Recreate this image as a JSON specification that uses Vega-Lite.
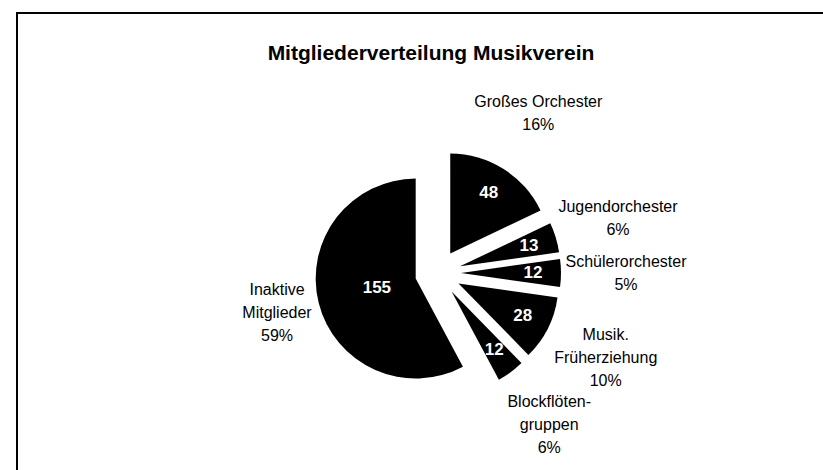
{
  "$schema": "https://vega.github.io/schema/vega-lite/v6.json",
  "width": 842,
  "height": 520,
  "autosize": "none",
  "padding": {"left": 17, "top": 13, "right": 0, "bottom": 0},
  "background": "white",
  "view": {"stroke": "black", "strokeWidth": 2, "fill": "white"},
  "title": {
    "text": "Mitgliederverteilung Musikverein",
    "font": "Liberation Sans",
    "fontSize": 21,
    "fontWeight": "bold",
    "color": "black",
    "anchor": "middle",
    "frame": "group",
    "offset": -68,
    "baseline": "alphabetic",
    "dx": -7
  },
  "data": {
    "values": [
      {"i": 1, "name": "Großes Orchester", "n": 48, "label": ["Großes Orchester", "16%"]},
      {"i": 2, "name": "Jugendorchester", "n": 13, "label": ["Jugendorchester", "6%"]},
      {"i": 3, "name": "Schülerorchester", "n": 12, "label": ["Schülerorchester", "5%"]},
      {"i": 4, "name": "Musik. Früherziehung", "n": 28, "label": ["Musik.", "Früherziehung", "10%"]},
      {"i": 5, "name": "Blockflötengruppen", "n": 12, "label": ["Blockflöten-", "gruppen", "6%"]},
      {"i": 6, "name": "Inaktive Mitglieder", "n": 155, "label": ["Inaktive", "Mitglieder", "59%"]}
    ]
  },
  "encoding": {
    "theta": {"field": "n", "type": "quantitative", "stack": true},
    "order": {"field": "i", "type": "quantitative", "sort": "ascending"}
  },
  "layer": [
    {
      "mark": {
        "type": "arc",
        "outerRadius": 100,
        "color": "black",
        "xOffset": {"expr": "23*sin(scale('theta', (datum.n_start + datum.n_end) / 2))"},
        "yOffset": {"expr": "-23*cos(scale('theta', (datum.n_start + datum.n_end) / 2))"}
      }
    },
    {
      "mark": {
        "type": "text",
        "radius": {"expr": "datum.n > 100 ? 40 : 72"},
        "color": "white",
        "font": "Liberation Sans",
        "fontSize": 17,
        "fontWeight": "bold",
        "align": "center",
        "baseline": "middle",
        "xOffset": {"expr": "23*sin(scale('theta', (datum.n_start + datum.n_end) / 2))"},
        "yOffset": {"expr": "-23*cos(scale('theta', (datum.n_start + datum.n_end) / 2))"}
      },
      "encoding": {"text": {"field": "n", "type": "quantitative"}}
    },
    {
      "mark": {
        "type": "text",
        "radius": {"expr": "datum.n > 100 ? 143 : 165"},
        "color": "black",
        "font": "Liberation Sans",
        "fontSize": 16,
        "lineHeight": 23,
        "align": "center",
        "baseline": "middle",
        "xOffset": {"expr": "23*sin(scale('theta', (datum.n_start + datum.n_end) / 2))"},
        "yOffset": {"expr": "-23*cos(scale('theta', (datum.n_start + datum.n_end) / 2)) - (length(datum.label) - 1) * 11.5"}
      },
      "encoding": {"text": {"field": "label", "type": "nominal"}}
    }
  ]
}
